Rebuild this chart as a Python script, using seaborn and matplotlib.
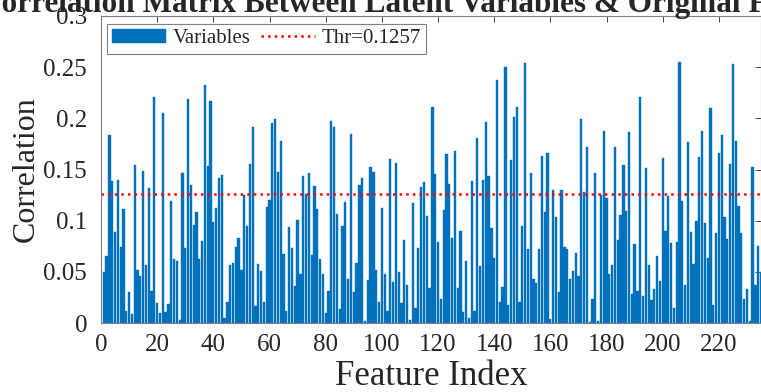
"""
plot.py - bar chart of correlation between latent variables and original features
"""

import numpy as np
import matplotlib
matplotlib.use("Agg")
import matplotlib.pyplot as plt
from matplotlib.ticker import FormatStrFormatter
import seaborn as sns

# correlation per feature (features 1..235)
corr_001_040 = [0.050, 0.065, 0.184, 0.139, 0.089, 0.140, 0.074, 0.111, 0.012, 0.030,
                0.009, 0.154, 0.052, 0.046, 0.149, 0.057, 0.132, 0.031, 0.221, 0.020,
                0.010, 0.205, 0.011, 0.019, 0.119, 0.063, 0.061, 0.003, 0.147, 0.073,
                0.219, 0.135, 0.096, 0.108, 0.063, 0.080, 0.233, 0.153, 0.217, 0.099]
corr_041_080 = [0.112, 0.142, 0.145, 0.005, 0.021, 0.057, 0.059, 0.074, 0.083, 0.052,
                0.125, 0.095, 0.155, 0.192, 0.017, 0.058, 0.051, 0.021, 0.113, 0.120,
                0.195, 0.199, 0.148, 0.178, 0.067, 0.012, 0.094, 0.073, 0.036, 0.101,
                0.048, 0.144, 0.126, 0.147, 0.066, 0.134, 0.111, 0.063, 0.048, 0.010]
corr_081_120 = [0.031, 0.197, 0.192, 0.107, 0.014, 0.095, 0.118, 0.043, 0.185, 0.030,
                0.059, 0.135, 0.142, 0.002, 0.042, 0.152, 0.148, 0.052, 0.021, 0.112,
                0.048, 0.012, 0.160, 0.040, 0.156, 0.050, 0.020, 0.081, 0.037, 0.003,
                0.117, 0.015, 0.073, 0.133, 0.138, 0.105, 0.034, 0.211, 0.146, 0.079]
corr_121_160 = [0.023, 0.110, 0.165, 0.136, 0.083, 0.168, 0.034, 0.090, 0.011, 0.061,
                0.005, 0.139, 0.012, 0.181, 0.056, 0.140, 0.196, 0.144, 0.093, 0.064,
                0.237, 0.021, 0.035, 0.250, 0.018, 0.159, 0.201, 0.211, 0.021, 0.095,
                0.254, 0.072, 0.147, 0.043, 0.039, 0.072, 0.163, 0.108, 0.166, 0.004]
corr_161_200 = [0.130, 0.104, 0.030, 0.130, 0.074, 0.072, 0.043, 0.051, 0.068, 0.046,
                0.199, 0.128, 0.172, 0.001, 0.023, 0.147, 0.002, 0.125, 0.188, 0.122,
                0.048, 0.057, 0.172, 0.081, 0.106, 0.154, 0.109, 0.187, 0.028, 0.077,
                0.031, 0.221, 0.026, 0.151, 0.057, 0.022, 0.033, 0.065, 0.041, 0.161]
corr_201_235 = [0.090, 0.124, 0.078, 0.015, 0.079, 0.255, 0.119, 0.037, 0.177, 0.089,
                0.058, 0.100, 0.162, 0.188, 0.098, 0.064, 0.210, 0.018, 0.088, 0.166,
                0.184, 0.104, 0.082, 0.155, 0.253, 0.178, 0.114, 0.088, 0.023, 0.033,
                0.002, 0.152, 0.037, 0.075, 0.050]

threshold = 0.1257
x_ticks = [0, 20, 40, 60, 80, 100, 120, 140, 160, 180, 200, 220]
y_ticks = [0, 0.05, 0.1, 0.15, 0.2, 0.25, 0.3]

corr = np.array(corr_001_040 + corr_041_080 + corr_081_120 +
                corr_121_160 + corr_161_200 + corr_201_235)
feature_idx = np.arange(1, len(corr) + 1)

sns.set_style("white")
plt.rcParams['font.family'] = ['Liberation Serif', 'DejaVu Serif']

fig = plt.figure(figsize=(7.61, 3.92), dpi=100)
ax = fig.add_axes([101 / 761, 1 - 323 / 392, 660 / 761, 307 / 392])

sns.barplot(x=feature_idx, y=corr, native_scale=True, color='#0072BD',
            saturation=1, width=0.8, edgecolor='#0072BD', linewidth=0.3,
            label='Variables', ax=ax)
ax.axhline(threshold, color='red', linestyle=':', linewidth=1.8,
           label='Thr=0.1257')

ax.set_xlim(0, 235)
ax.set_ylim(0, 0.3)
ax.set_xticks(x_ticks)
ax.set_yticks(y_ticks)
ax.yaxis.set_major_formatter(FormatStrFormatter('%g'))
ax.tick_params(direction='in', length=4, width=0.6, top=True, right=True,
               labelsize=18, colors='#262626')
ax.tick_params(axis='y', pad=10)
ax.tick_params(axis='x', pad=8)
for s in ax.spines.values():
    s.set_color('#808080')
    s.set_linewidth(0.8)

ax.set_xlabel('Feature Index', fontsize=25, labelpad=3)
ax.set_ylabel('Correlation', fontsize=23, labelpad=2)

# legend: bars first, then threshold line
handles, labels = ax.get_legend_handles_labels()
order = [labels.index('Variables'), labels.index('Thr=0.1257')]
leg = ax.legend([handles[i] for i in order], [labels[i] for i in order],
                loc='upper left', ncol=2, fontsize=15, frameon=True,
                fancybox=False, framealpha=1, edgecolor='#808080',
                handlelength=2.6, columnspacing=0.5, handletextpad=0.3,
                borderpad=0.25, borderaxespad=0,
                bbox_to_anchor=(0.009, 0.975))
leg.get_frame().set_linewidth(0.8)

fig.text(-0.027, 0.969, 'Correlation Matrix Between Latent Variables & Original Features',
         fontsize=22.5, fontweight='bold', ha='left', va='baseline')

fig.savefig('out.png', dpi=100)
